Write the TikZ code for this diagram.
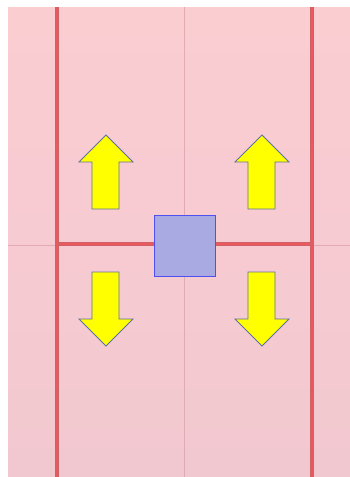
\documentclass[tikz,border=0pt]{standalone}
\definecolor{bgtop}{HTML}{FACDD1}
\definecolor{bgbot}{HTML}{F2C8D0}
\definecolor{redline}{HTML}{EA5A5C}
\definecolor{rededge}{HTML}{D06068}
\definecolor{thinline}{HTML}{E2AAB2}
\definecolor{boxfill}{HTML}{A9AAE2}
\definecolor{boxdraw}{HTML}{5050F0}
\definecolor{arrowdraw}{HTML}{6070A0}
\definecolor{yfill}{HTML}{FFFF00}
\tikzset{
  redbar/.style={draw=rededge, line width=4pt, postaction={draw=redline, line width=2.6pt}},
  thin/.style={draw=thinline, line width=0.8pt},
  yarrow/.style={fill=yfill, draw=arrowdraw, line width=0.8pt, line join=miter},
  bluebox/.style={fill=boxfill, draw=boxdraw, line width=0.8pt}
}
\begin{document}
\begin{tikzpicture}[x=1pt,y=-1pt]
\useasboundingbox (0,0) rectangle (350,477);
\fill[white] (0,0) rectangle (350,477);
\shade[top color=bgtop, bottom color=bgbot] (8,7) rectangle (350,477);
% thin center lines
\coordinate (tv1) at (184,7);
\coordinate (tv2) at (184,477);
\coordinate (th1) at (8,245);
\coordinate (th2) at (350,245);
\draw[thin] (tv1) -- (tv2);
\draw[thin] (th1) -- (th2);
% red bars
\coordinate (l1) at (57,7);
\coordinate (l2) at (57,477);
\coordinate (r1) at (312,7);
\coordinate (r2) at (312,477);
\coordinate (hl) at (57,244);
\coordinate (hr) at (312,244);
\draw[redbar] (hl) -- (hr);
\draw[redbar] (l1) -- (l2);
\draw[redbar] (r1) -- (r2);
% box
\node[bluebox, minimum width=61pt, minimum height=61pt, inner sep=0pt] (box) at (184.5,245.5) {};
% up arrows
\draw[yarrow] (92,209) -- (92,162) -- (79,162) -- (106,135) -- (133,162) -- (119,162) -- (119,209) -- cycle;
\draw[yarrow] (248,209) -- (248,162) -- (235,162) -- (262,135) -- (289,162) -- (275,162) -- (275,209) -- cycle;
% down arrows
\draw[yarrow] (92,272) -- (92,319) -- (79,319) -- (106,346) -- (133,319) -- (119,319) -- (119,272) -- cycle;
\draw[yarrow] (248,272) -- (248,319) -- (235,319) -- (262,346) -- (289,319) -- (275,319) -- (275,272) -- cycle;
\end{tikzpicture}
\end{document}
